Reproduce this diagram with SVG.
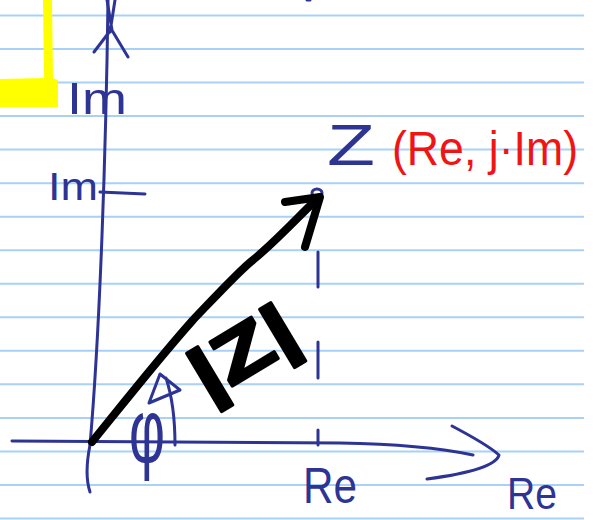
<svg xmlns="http://www.w3.org/2000/svg" width="593" height="520" viewBox="0 0 593 520">
<style>
.rule{stroke:#a9d1f7;stroke-width:2;fill:none}
.ink{stroke:#2d3494;stroke-width:3;fill:none;stroke-linecap:round;stroke-linejoin:round}
.blk{stroke:#000;stroke-width:8;fill:none;stroke-linecap:round;stroke-linejoin:round}
.bt{fill:#2d3494;font-family:'Liberation Sans',Arial,sans-serif}
.rt{fill:#f01414;font-family:'Liberation Sans',Arial,sans-serif}
</style>
<rect width="593" height="520" fill="#fff"/>
<g id="paper">
<path class="rule" d="M0,15.5H584M0,49H584M0,82.6H584M0,116.1H584M0,149.6H584M0,183.2H584M0,216.7H584M0,250.2H584M0,283.7H584M0,317.3H584M0,350.8H584M0,384.3H584M0,417.9H584M0,451.4H584M0,484.9H584M0,518.5H584"/>
<path id="highlight" fill="#ffff00" d="M43,0 L52,0 L53,78 L58,80 L58,107 L0,107 L0,79 L44,78 Z"/>
</g>
<g id="connectors">
<path class="ink" d="M108,0 C106,150 100,330 90,445"/>
<path class="ink" d="M90,445 C86,465 86,480 90,492"/>
<path class="ink" d="M107,0 L112,30 M115,0 L110,32 M94,52 L110,31 M110,27 L128,57"/>
<path class="ink" d="M12,441 L340,443 C400,444 440,448 473,455"/>
<path class="ink" d="M452,426 Q488,445 499,455 Q495,470 427,479"/>
<path class="ink" d="M318,430 L318,445 M318,252 L318,287 M318,342 L318,378"/>
<path class="ink" d="M100,192 L145,194" stroke-width="5"/>
<path class="ink" d="M175,445 Q175,405 166,378 M160,374 L149,403 L180,390 Z"/>
<ellipse cx="317" cy="193" rx="5" ry="4" class="ink" stroke-width="4"/>
<path class="blk" d="M92,442 C130,395 160,357 193,320 C215,297 240,270 253,260 C275,242 295,220 318,198"/>
<path class="blk" d="M285,202 L320,197 L305,247"/>
<path class="ink" d="M307,0 L310,0" stroke-width="3"/>
</g>
<g id="label-im-top"><text class="bt" x="67" y="114" font-size="44" textLength="60" lengthAdjust="spacingAndGlyphs">Im</text></g>
<g id="label-im-tick"><text class="bt" x="48" y="200" font-size="38" textLength="50" lengthAdjust="spacingAndGlyphs">Im</text></g>
<g id="label-z"><text class="bt" x="327" y="165" font-size="58" textLength="48" lengthAdjust="spacingAndGlyphs">Z</text></g>
<g id="label-coords"><text class="rt" x="392" y="165" font-size="48" textLength="186" lengthAdjust="spacingAndGlyphs">(Re, j·Im)</text></g>
<g id="label-modz"><text transform="translate(243,352) rotate(-31)" x="0" y="24" text-anchor="middle" font-family="'Liberation Sans',Arial,sans-serif" font-weight="bold" font-size="72" stroke="#000" stroke-width="3" stroke-linejoin="round" textLength="112" lengthAdjust="spacingAndGlyphs">|Z|</text></g>
<g id="label-phi"><text class="bt" x="129" y="462" font-size="90" textLength="36" lengthAdjust="spacingAndGlyphs">φ</text></g>
<g id="label-re-tick"><text class="bt" x="303" y="503" font-size="50" textLength="54" lengthAdjust="spacingAndGlyphs">Re</text></g>
<g id="label-re-axis"><text class="bt" x="507" y="509" font-size="44" textLength="50" lengthAdjust="spacingAndGlyphs">Re</text></g>
</svg>
